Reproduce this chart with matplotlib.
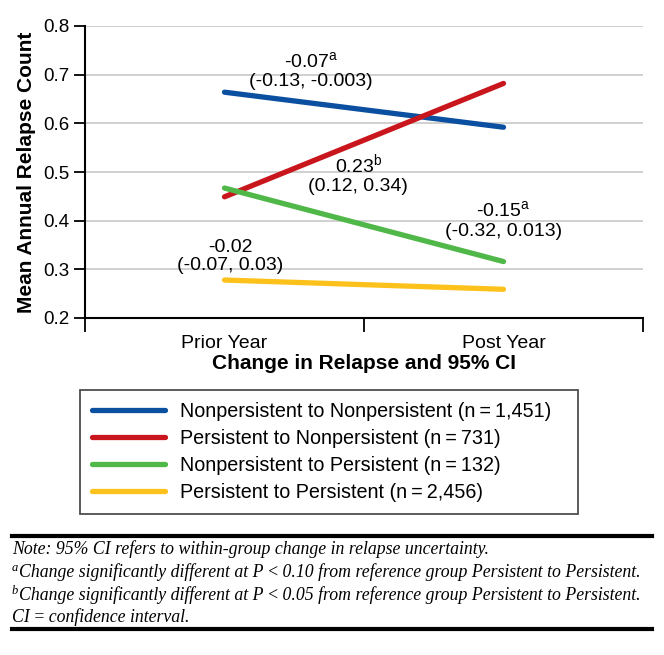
import numpy as np
import matplotlib
matplotlib.use("Agg")
import matplotlib.pyplot as plt
from matplotlib.lines import Line2D

plt.rcParams['font.family'] = ['Liberation Sans', 'DejaVu Sans']
plt.rcParams['mathtext.fontset'] = 'custom'
plt.rcParams['mathtext.rm'] = 'Liberation Sans'

# ~~~~~~~~~~~~~~~~~~~~ data ~~~~~~~~~~~~~~~~~~~~
periods = ['Prior Year', 'Post Year']
groups = ['Nonpersistent to Nonpersistent (n\u2009=\u20091,451)',
          'Persistent to Nonpersistent (n\u2009=\u2009731)',
          'Nonpersistent to Persistent (n\u2009=\u2009132)',
          'Persistent to Persistent (n\u2009=\u20092,456)']
prior = [0.664, 0.449, 0.467, 0.278]
post = [0.592, 0.682, 0.316, 0.259]
colors = ['#0b4fa0', '#c9161d', '#4fb848', '#fdc11c']

changes = ['-0.07$^{\\mathrm{a}}$', '0.23$^{\\mathrm{b}}$', '-0.15$^{\\mathrm{a}}$', '-0.02']
cis = ['(-0.13, -0.003)', '(0.12, 0.34)', '(-0.32, 0.013)', '(-0.07, 0.03)']
ann_x = [0.81, 0.98, 1.50, 0.52]
ann_y = [0.708, 0.496, 0.401, 0.326]

notes = ['Note: 95% CI refers to within-group change in relapse uncertainty.',
         'Change significantly different at P\u2009<\u20090.10 from reference group Persistent to Persistent.',
         'Change significantly different at P\u2009<\u20090.05 from reference group Persistent to Persistent.',
         'CI\u2009=\u2009confidence interval.']
note_marks = ['', 'a', 'b', '']

# ~~~~~~~~~~~~~~~~~~~~ plot ~~~~~~~~~~~~~~~~~~~~
fig = plt.figure(figsize=(6.64, 6.55), dpi=100)
ax = fig.add_axes([85/664, 1-318/655, (643-85)/664, (318-26)/655])

xpos = [0.5, 1.5]
for i in range(len(groups)):
    ax.plot(xpos, [prior[i], post[i]], color=colors[i], lw=3.8,
            solid_capstyle='round', label=groups[i], zorder=3)

for i in range(len(changes)):
    ax.text(ann_x[i], ann_y[i], changes[i] + '\n' + cis[i], ha='center', va='center',
            fontsize=14, linespacing=1.1, zorder=4)

ax.set_xlim(0, 2)
ax.set_ylim(0.2, 0.8)
ax.set_yticks(np.arange(0.2, 0.81, 0.1))
ax.set_yticklabels(['%.1f' % v for v in np.arange(0.2, 0.81, 0.1)], fontsize=13.5)
ax.set_xticks([0, 1, 2])
ax.set_xticklabels([])
ax.set_xticks(xpos, minor=True)
ax.set_xticklabels(periods, minor=True, fontsize=14)
ax.tick_params(axis='x', which='minor', length=0, pad=12)
ax.tick_params(axis='x', which='major', length=10, width=1.3)
ax.tick_params(axis='y', length=8, width=1.3)
for y in np.arange(0.3, 0.81, 0.1):
    ax.axhline(y, color='#c8c8c8', lw=1.2, zorder=1)
for s in ['top', 'right']:
    ax.spines[s].set_visible(False)
for s in ['left', 'bottom']:
    ax.spines[s].set_linewidth(1.5)
ax.set_ylabel('Mean Annual Relapse Count', fontsize=15, fontweight='bold', labelpad=5)
ax.set_xlabel('Change in Relapse and 95% CI', fontsize=15, fontweight='bold', labelpad=2)

leg = fig.legend(loc='upper left', bbox_to_anchor=(80/664, 1-390/655-0.1, (578-80)/664, 0.1),
                 mode='expand', fontsize=14.2, frameon=True, fancybox=False,
                 handlelength=3.7, handletextpad=0.75, labelspacing=0.4,
                 borderpad=0.62, borderaxespad=0)
leg.get_frame().set_edgecolor('#222222')
leg.get_frame().set_linewidth(1.3)

# notes block
fig.add_artist(Line2D([12/664, 652/664], [1-536/655, 1-536/655], color='black', lw=3))
fig.add_artist(Line2D([12/664, 652/664], [1-629/655, 1-629/655], color='black', lw=3))
note_y = [549, 572, 595, 617]
for i in range(len(notes)):
    x0 = 12/664
    if note_marks[i]:
        fig.text(x0, 1-(note_y[i]-4)/655, note_marks[i], fontsize=9, style='italic',
                 family='Liberation Serif', va='center')
        x0 = 19/664
    fig.text(x0, 1-note_y[i]/655, notes[i], fontsize=12.8, style='italic',
             family='Liberation Serif', va='center')

fig.savefig('out.png', dpi=100)
